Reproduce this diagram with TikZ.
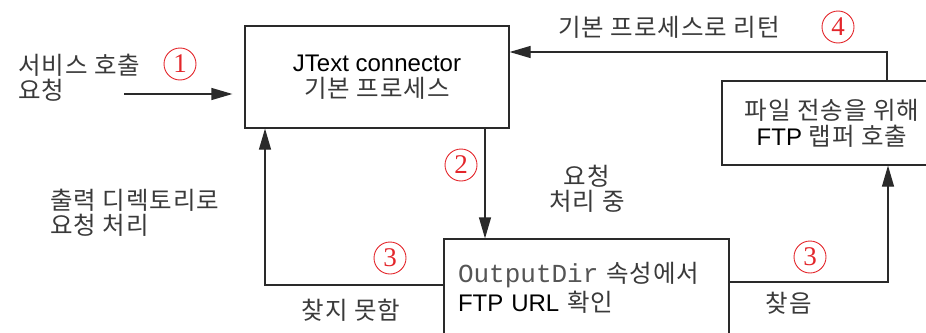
\documentclass[tikz,border=0pt]{standalone}
\usepackage{fontspec}
\setmainfont{Liberation Sans}
\newfontfamily\kr{Noto Sans CJK KR}[LetterSpace=4]
\newfontfamily\codefont{Liberation Mono}
\newfontfamily\numfont{Liberation Serif}
\usetikzlibrary{arrows.meta}
\definecolor{ln}{HTML}{2A2A2A}
\definecolor{numred}{HTML}{E3262B}
\definecolor{krtxt}{HTML}{3A3A3A}
\definecolor{codetxt}{HTML}{555555}
\newcommand{\ko}[1]{{\kr\fontsize{24.5}{25}\selectfont\color{krtxt}#1}}
\begin{document}
\begin{tikzpicture}[x=1pt,y=-1pt,
  box/.style={draw=ln, line width=1.2pt, inner sep=0pt, align=center,
              font=\fontsize{24}{26}\selectfont},
  conn/.style={draw=ln, line width=1.2pt},
  arr/.style={conn, -{Triangle[length=21pt,width=12pt]}},
  num/.style={circle, draw=numred, line width=0.9pt, minimum size=32pt,
              inner sep=0pt, text=numred, font=\numfont\fontsize{27}{27}\selectfont},
  lbl/.style={font=\kr\fontsize{24.5}{25}\selectfont, text=krtxt, align=left, inner sep=0pt}
]
\useasboundingbox (0,0) rectangle (926,332);

% process boxes
\node[box, minimum width=264pt, minimum height=102pt] (jt) at (377,77)
  {JText connector\\\ko{기본 프로세스}};
\node[box, minimum width=220pt, minimum height=84pt] (ftp) at (832,123)
  {\ko{파일 전송을 위해}\\FTP \ko{랩퍼 호출}};
\node[box, minimum width=285pt, minimum height=97pt, text width=257pt, align=left,
      font=\fontsize{24}{29}\selectfont] (ob) at (586.5,287.5)
  {{\codefont\fontsize{26}{29}\selectfont\color{codetxt}OutputDir} \ko{속성에서}\\FTP URL \ko{확인}};

% labels
\node[lbl, anchor=west] (lreq) at (18,77.5) {서비스 호출\\요청};
\node[lbl, anchor=west] (lout) at (50,212.5) {출력 디렉토리로\\요청 처리};
\node[lbl, align=center] (lproc) at (587,188.5) {요청\\처리 중};
\node[lbl] (lret) at (669,27) {기본 프로세스로 리턴};
\node[lbl] (lnf) at (351,310) {찾지 못함};
\node[lbl] (lfound) at (789,303) {찾음};

% step numbers
\node[num] (n1) at (180,64) {1};
\node[num] (n2) at (461,165) {2};
\node[num] (n3a) at (390,258) {3};
\node[num] (n3b) at (810,257) {3};
\node[num] (n4) at (838,27) {4};

% connectors
\coordinate (start) at (124,94);
\draw[arr, shorten >=12pt] (start) -- (jt.west |- start);

\coordinate (down) at (485,0);
\draw[arr] (jt.south -| down) -- (ob.north -| down);

\coordinate (lc) at (265,285);
\draw[arr] (ob.west |- lc) -| (jt.south -| lc);

\coordinate (rc) at (888,282);
\draw[arr] (ob.east |- rc) -| (ftp.south -| rc);

\coordinate (tc) at (887,52);
\draw[arr] (ftp.north -| tc) |- (jt.east |- tc);
\end{tikzpicture}
\end{document}
